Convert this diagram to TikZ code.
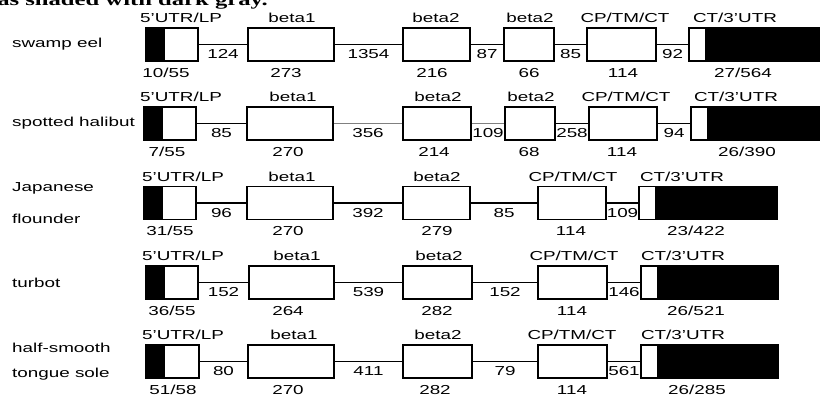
\documentclass[tikz,border=0pt]{standalone}
\usepackage{fontspec}
\setmainfont{Liberation Sans}[FakeStretch=1.45]
\newfontfamily\capfont{Liberation Serif}[FakeStretch=1.45]
\usetikzlibrary{positioning}
\definecolor{ink}{HTML}{000000}
\definecolor{faint}{HTML}{808080}
\newcommand{\ExonH}{33}
\newcommand{\TopLift}{22}
\newcommand{\BotDrop}{32.5}
\newcommand{\IntronDrop}{14}

\begin{document}
\begin{tikzpicture}[x=1pt, y=-1pt,
    font=\fontsize{13}{15.6}\selectfont, ink,
    exon/.style={draw=ink, line width=1.8pt, fill=white, inner sep=0pt, minimum height=\ExonH pt},
    utrfive/.style={exon, path picture={\fill[ink] (path picture bounding box.south west) rectangle ([xshift=19pt]path picture bounding box.north west);}},
    utrthree/.style={exon, path picture={\fill[ink] ([xshift=16pt]path picture bounding box.south west) rectangle (path picture bounding box.north east);}},
    intron/.style={draw=ink, line width=1.8pt},
    pale/.style={draw=faint, line width=1.8pt},
    lab/.style={anchor=base, inner sep=0pt},
    species/.style={anchor=west, inner sep=0pt, align=left},
  ]
\useasboundingbox (0,0) rectangle (820,400);

% caption line of the page above, cut by the frame
\node[lab, anchor=base east, font=\capfont\bfseries\fontsize{17}{20}\selectfont] (caption) at (268, 5) {was shaded with dark gray.};

% One row per fish: exons as k/left/right/style/top x/top label/bottom x/bottom label/intron before it/intron style.
\foreach \r/\ly/\species/\exons in {
    1/44.5/{swamp eel}/{0/146/198/utrfive/181/{5'UTR/LP}/166/{10/55}/-/intron,
      1/248/334/exon/292/beta1/286/273/124/intron,
      2/403/470/exon/436/beta2/432/216/1354/intron,
      3/504/554/exon/530/beta2/529/66/87/intron,
      4/587/656/exon/625/{CP/TM/CT}/623/114/85/intron,
      5/689/840/utrthree/735/{CT/3'UTR}/743/{27/564}/92/intron},
    2/123.5/{spotted halibut}/{0/144/196/utrfive/181/{5'UTR/LP}/167/{7/55}/-/intron,
      1/247/333/exon/293/beta1/288/270/85/intron,
      2/403/471/exon/438/beta2/434/214/356/pale,
      3/505/555/exon/531/beta2/529/68/109/pale,
      4/589/657/exon/626/{CP/TM/CT}/622/114/258/intron,
      5/691/840/utrthree/736/{CT/3'UTR}/747/{26/390}/94/intron},
    3/203/{Japanese\\[16pt]flounder}/{0/144/196/utrfive/183/{5'UTR/LP}/170/{31/55}/-/intron,
      1/247/333/exon/292/beta1/288/270/96/intron,
      2/403/470/exon/437/beta2/437/279/392/intron,
      3/538/606/exon/573/{CP/TM/CT}/571/114/85/intron,
      4/639/777/utrthree/682/{CT/3'UTR}/696/{23/422}/109/intron},
    4/282.5/{turbot}/{0/146/198/utrfive/183/{5'UTR/LP}/172/{36/55}/-/intron,
      1/249/334/exon/297/beta1/288/264/152/intron,
      2/403/472/exon/439/beta2/437/282/539/intron,
      3/538/607/exon/574/{CP/TM/CT}/572/114/152/intron,
      4/641/778/utrthree/683/{CT/3'UTR}/696/{26/521}/146/intron},
    5/361.5/{half-smooth\\[10pt]tongue sole}/{0/146/199/utrfive/183/{5'UTR/LP}/173/{51/58}/-/intron,
      1/248/334/exon/294/beta1/288/270/80/intron,
      2/403/472/exon/438/beta2/435/282/411/intron,
      3/538/607/exon/572/{CP/TM/CT}/572/114/79/intron,
      4/641/778/utrthree/683/{CT/3'UTR}/697/{26/285}/561/intron}} {
  \node[species] (sp\r) at (12, \ly) {\species};
  \foreach \k/\xa/\xb/\st/\tx/\toplab/\bx/\botlab/\intr/\lk in \exons {
    \node[\st, minimum width={(\xb-\xa)*1pt}] (e\r\k) at ({(\xa+\xb)/2}, \ly) {};
    \node[lab] (t\r\k) at (\tx, \ly-\TopLift) {\toplab};
    \node[lab] (b\r\k) at (\bx, \ly+\BotDrop) {\botlab};
    \ifnum\k>0
      \pgfmathtruncatemacro{\prev}{\k-1}
      \draw[\lk] (e\r\prev) -- (e\r\k) node[midway, lab, yshift=-\IntronDrop pt] {\intr};
    \fi
  }
}

\end{tikzpicture}
\end{document}
